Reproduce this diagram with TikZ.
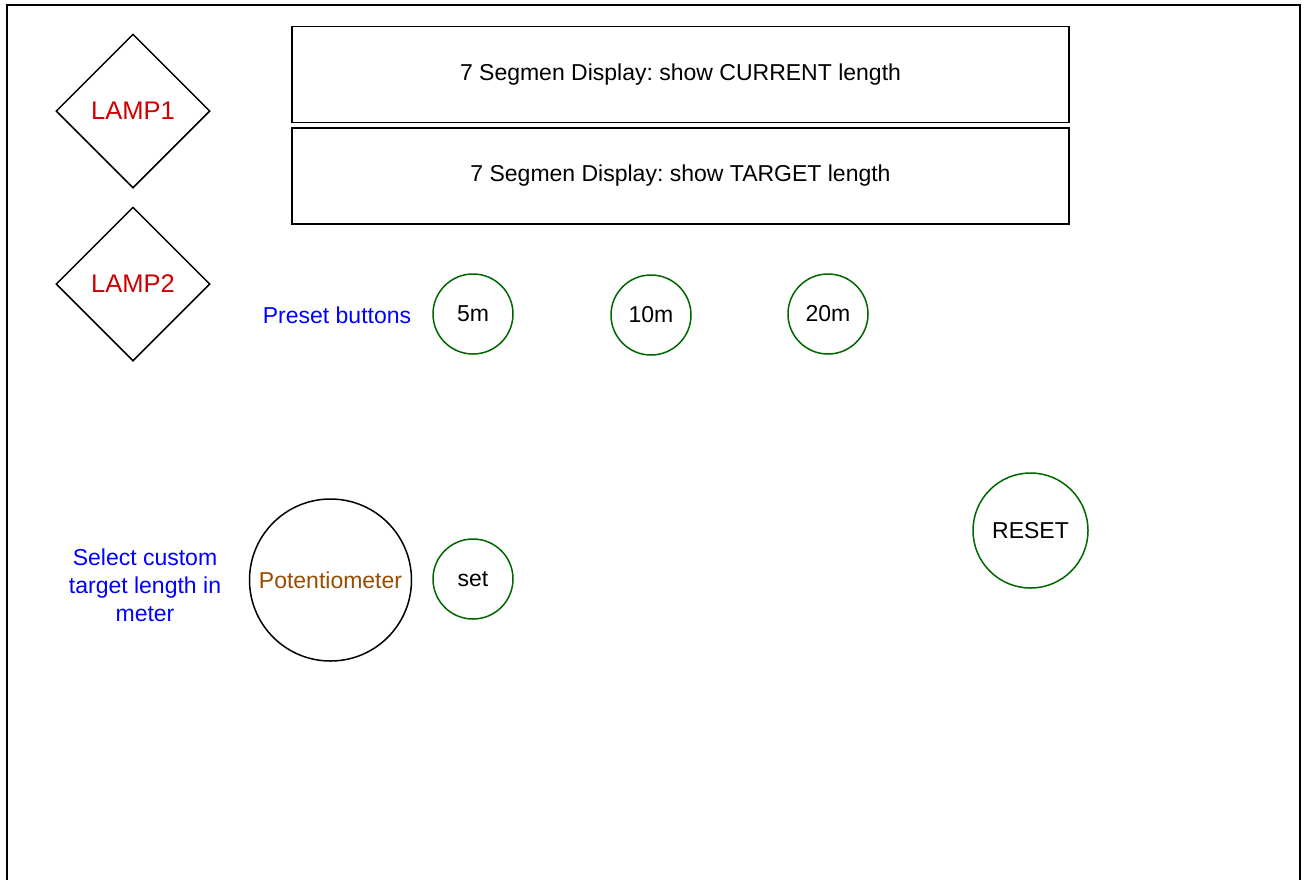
\documentclass[tikz,border=0pt]{standalone}
\usepackage{fontspec}
\setmainfont{Liberation Sans}
\frenchspacing
\usetikzlibrary{shapes.geometric}

\definecolor{lampred}{HTML}{CC0000}
\definecolor{btngreen}{HTML}{006600}
\definecolor{hintblue}{HTML}{0000FF}
\definecolor{potbrown}{HTML}{994C00}

\begin{document}
\begin{tikzpicture}[
        x=1pt, y=-1pt,
        lampbox/.style={diamond, draw, line width=1.5pt, aspect=1, minimum size=154pt,
            inner sep=0pt, text=lampred, font=\fontsize{25.5}{30}\selectfont},
        dispbox/.style={rectangle, draw, line width=1.5pt, minimum width=777pt,
            minimum height=96pt, inner sep=0pt, font=\fontsize{23}{27}\selectfont},
        btn/.style={circle, draw=btngreen, line width=1.5pt, minimum size=80pt,
            inner sep=0pt, font=\fontsize{23}{27}\selectfont},
        potknob/.style={circle, draw, line width=1.5pt, minimum size=162pt,
            inner sep=0pt, text=potbrown, font=\fontsize{23}{27}\selectfont},
        hint/.style={text=hintblue, align=center, inner sep=0pt,
            font=\fontsize{23}{28}\selectfont},
    ]

    \clip (0, 0) rectangle (1308, 879);
    \draw[line width=2pt] (7, 5) rectangle (1300, 920);

    \node[lampbox] (lamp1) at (133, 111) {LAMP1};
    \node[lampbox] (lamp2) at (133, 284) {LAMP2};

    \node[dispbox] (current) at (680.5, 74.5) {7 Segmen Display: show CURRENT length};
    \node[dispbox] (target) at (680.5, 176) {7 Segmen Display: show TARGET length};

    \node[hint] (presetlbl) at (337, 315) {Preset buttons};
    \node[btn] (five) at (473, 314) {5m};
    \node[btn] (ten) at (651, 315) {10m};
    \node[btn] (twenty) at (828, 314) {20m};

    \node[hint] (customlbl) at (145, 585) {Select custom\\target length in\\meter};
    \node[potknob] (pot) at (330.5, 580) {Potentiometer};
    \node[btn] (set) at (473, 579) {set};

    \node[btn, minimum size=115pt] (reset) at (1030.5, 530.5) {RESET};
\end{tikzpicture}
\end{document}
